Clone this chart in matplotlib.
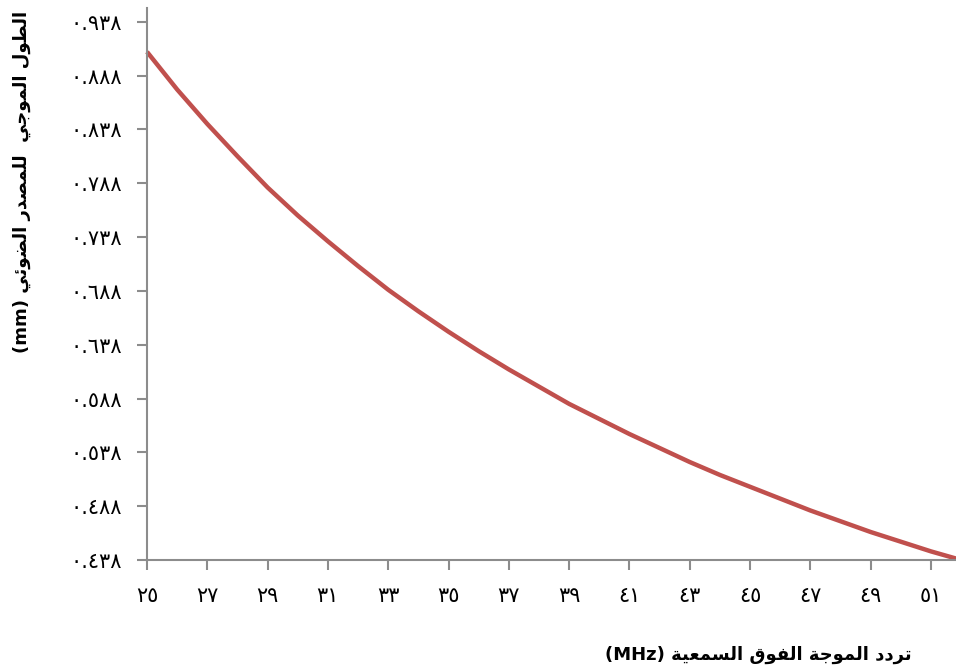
import matplotlib
matplotlib.use("Agg")
import matplotlib.pyplot as plt

# frequency (MHz) and wavelength (mm)
freq = [25, 26, 27, 28, 29, 30, 31, 32, 33, 34, 35, 36, 37, 38,
        39, 40, 41, 42, 43, 44, 45, 46, 47, 48, 49, 50, 51, 52]
wavelength = [0.910, 0.875, 0.843, 0.813, 0.784, 0.758, 0.734, 0.711,
              0.689, 0.669, 0.650, 0.632, 0.615, 0.599, 0.583, 0.569,
              0.555, 0.542, 0.529, 0.517, 0.506, 0.495, 0.484, 0.474,
              0.464, 0.455, 0.446, 0.438]
xticks = list(range(25, 52, 2))
yticks = [0.438, 0.488, 0.538, 0.588, 0.638, 0.688, 0.738, 0.788, 0.838, 0.888, 0.938]

xlabel = "تردد الموجة الفوق السمعية"
xunit = "(MHz)"
ylabel = "الطول الموجي  للمصدر الضوئي"
yunit = "(mm)"

# minimal arabic shaping: (isolated, final, initial, medial)
FORMS = {
    "ا": (0xFE8D, 0xFE8E, None, None),
    "ت": (0xFE95, 0xFE96, 0xFE97, 0xFE98),
    "ة": (0xFE93, 0xFE94, None, None),
    "ج": (0xFE9D, 0xFE9E, 0xFE9F, 0xFEA0),
    "د": (0xFEA9, 0xFEAA, None, None),
    "ر": (0xFEAD, 0xFEAE, None, None),
    "س": (0xFEB1, 0xFEB2, 0xFEB3, 0xFEB4),
    "ص": (0xFEB9, 0xFEBA, 0xFEBB, 0xFEBC),
    "ض": (0xFEBD, 0xFEBE, 0xFEBF, 0xFEC0),
    "ط": (0xFEC1, 0xFEC2, 0xFEC3, 0xFEC4),
    "ع": (0xFEC9, 0xFECA, 0xFECB, 0xFECC),
    "ف": (0xFED1, 0xFED2, 0xFED3, 0xFED4),
    "ق": (0xFED5, 0xFED6, 0xFED7, 0xFED8),
    "ل": (0xFEDD, 0xFEDE, 0xFEDF, 0xFEE0),
    "م": (0xFEE1, 0xFEE2, 0xFEE3, 0xFEE4),
    "و": (0xFEED, 0xFEEE, None, None),
    "ي": (0xFEF1, 0xFEF2, 0xFEF3, 0xFEF4),
    "ئ": (0xFE89, 0xFE8A, 0xFE8B, 0xFE8C),
}


def dual(c):
    return c in FORMS and FORMS[c][2] is not None


def shape(text):
    out = []
    for i, c in enumerate(text):
        if c not in FORMS:
            out.append(c)
            continue
        prev = text[i - 1] if i > 0 else ""
        nxt = text[i + 1] if i + 1 < len(text) else ""
        jp = dual(prev)
        jn = dual(c) and nxt in FORMS
        iso, fin, ini, med = FORMS[c]
        if jp and jn:
            code = med
        elif jp:
            code = fin
        elif jn:
            code = ini
        else:
            code = iso
        out.append(chr(code))
    return "".join(out)[::-1]


def arabic_digits(s):
    return s.translate(str.maketrans("0123456789", "٠١٢٣٤٥٦٧٨٩"))


fig = plt.figure(figsize=(9.56, 6.68), dpi=100)
ax = fig.add_axes([147 / 956, 108 / 668, 1 - 147 / 956, 552 / 668])

ax.plot(freq, wavelength, color="#C0504D", lw=3.2, solid_capstyle="butt", clip_on=False)

ax.set_xlim(25, 51.83)
ax.set_ylim(0.438, 0.9507)
ax.set_xticks(xticks)
ax.set_xticklabels([arabic_digits(str(t)) for t in xticks])
ax.set_yticks(yticks)
ax.set_yticklabels([arabic_digits(f"{t:.3f}") for t in yticks])

for side in ["top", "right"]:
    ax.spines[side].set_visible(False)
for side in ["left", "bottom"]:
    ax.spines[side].set_color("#8c8c8c")
    ax.spines[side].set_linewidth(1.5)
ax.tick_params(axis="both", colors="#8c8c8c", width=1.5, length=7, labelcolor="black",
               labelsize=15)
ax.tick_params(axis="y", pad=11)
ax.tick_params(axis="x", pad=12)

fig.text(912 / 956, 1 - 655 / 668, xunit + " " + shape(xlabel), ha="right", va="center",
         fontsize=13, fontweight="bold", family="DejaVu Sans")
fig.text(22 / 956, 1 - 182 / 668, yunit + " " + shape(ylabel), ha="center", va="center",
         rotation=90, fontsize=13, fontweight="bold", family="DejaVu Sans")

fig.savefig("out.png", dpi=100)
